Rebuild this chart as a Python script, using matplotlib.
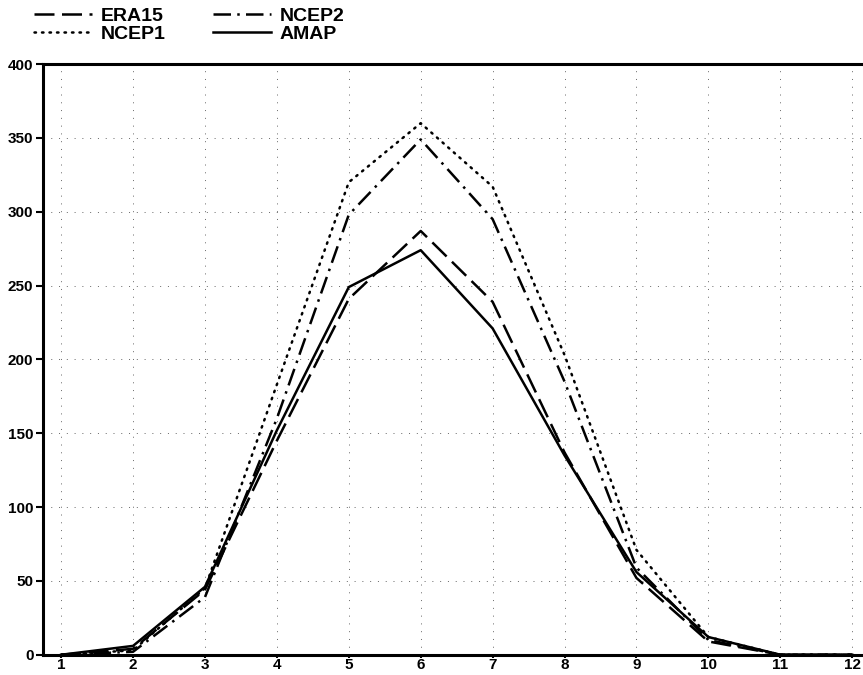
import matplotlib
matplotlib.use("Agg")
import matplotlib.pyplot as plt

# months 1..12
months = [1, 2, 3, 4, 5, 6, 7, 8, 9, 10, 11, 12]

era15 = [0, 4, 44, 145, 241, 287, 239, 137, 52, 9, 0, 0]
ncep1 = [0, 3, 45, 183, 320, 360, 317, 203, 71, 12, 0, 0]
ncep2 = [0, 2, 39, 160, 298, 349, 295, 185, 59, 10, 0, 0]
amap = [0, 6, 46, 152, 249, 274, 221, 135, 56, 12, 0, 0]

yticks = [0, 50, 100, 150, 200, 250, 300, 350, 400]

plt.rcParams['font.family'] = ['Liberation Sans', 'DejaVu Sans']
plt.rcParams['font.weight'] = 'bold'

fig = plt.figure(figsize=(8.63, 6.75), dpi=100)
ax = fig.add_axes([0.05, 0.03, 0.95, 0.875])

lw = 1.8
l1, = ax.plot(months, era15, color='black', lw=lw, ls=(0, (8, 3)), label='ERA15')
l2, = ax.plot(months, ncep1, color='black', lw=lw, ls=(0, (0.6, 2.4)),
              dash_capstyle='round', label='NCEP1')
l3, = ax.plot(months, ncep2, color='black', lw=lw, ls=(0, (7, 2.5, 1, 2.5)),
              label='NCEP2')
l4, = ax.plot(months, amap, color='black', lw=lw, ls='-', label='AMAP')

ax.set_xlim(0.75, 12.15)
ax.set_ylim(0, 400)
ax.set_xticks(months)
ax.set_yticks(yticks)

# dotted grid
ax.grid(True, color='0.4', lw=0.7, ls=(0, (1, 7)))

for s in ['left', 'top', 'bottom']:
    ax.spines[s].set_linewidth(2.2)
ax.spines['right'].set_visible(False)

ax.tick_params(axis='y', length=5, width=1.5, pad=2, labelsize=11)
ax.tick_params(axis='x', length=2, width=1.5, pad=0.5, labelsize=11)
for lab in ax.get_xticklabels() + ax.get_yticklabels():
    lab.set_fontweight('bold')

fig.legend(handles=[l1, l2, l3, l4], ncol=2, loc='upper left',
           bbox_to_anchor=(0.019, 1.015), frameon=False, handlelength=3.0,
           handletextpad=0.45, columnspacing=2.4, labelspacing=0.0,
           prop={'size': 14, 'weight': 'bold'})

fig.savefig('out.png', dpi=100)
